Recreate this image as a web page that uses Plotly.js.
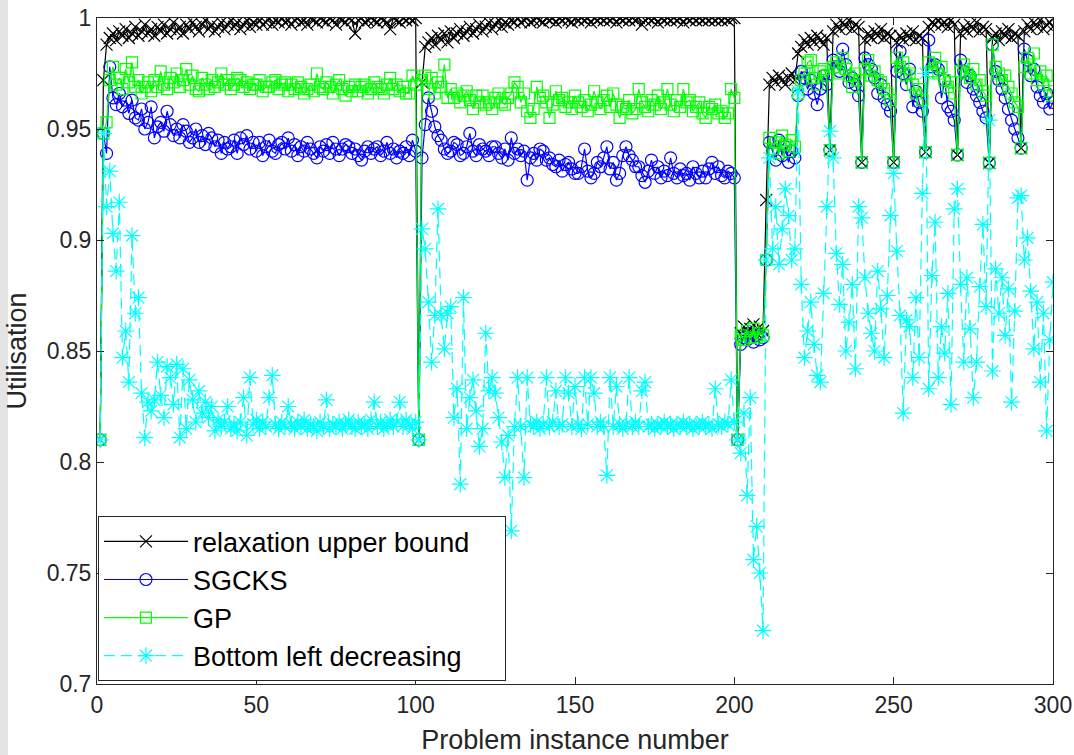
<!DOCTYPE html>
<html>
<head>
<meta charset="utf-8">
<script src="https://cdn.plot.ly/plotly-3.0.1.min.js"></script>
<style>
html,body{margin:0;padding:0;background:#fff;}
#chart{width:1074px;height:755px;}
</style>
</head>
<body>
<div id="chart"></div>
<script>
// Legend names
const seriesNames = ["relaxation upper bound", "SGCKS", "GP", "Bottom left decreasing"];
const xTickVals = [0, 50, 100, 150, 200, 250, 300];
const yTickVals = [0.7, 0.75, 0.8, 0.85, 0.9, 0.95, 1];

// relaxation upper bound, instances 1-100, 101-200, 201-300
const relax1 = [0.810,0.972,0.988,0.991,0.993,0.990,0.994,0.992,0.995,0.991,
 0.993,0.996,0.992,0.994,0.997,0.993,0.995,0.992,0.996,0.994,
 0.997,0.993,0.995,0.998,0.994,0.996,0.993,0.997,0.995,0.998,
 0.996,0.994,0.997,0.999,0.995,0.997,0.994,0.996,0.998,0.995,
 0.997,0.999,0.996,0.998,0.995,0.997,0.999,0.996,0.998,0.997,
 0.999,0.997,0.998,1.000,0.997,0.999,0.998,1.000,0.998,0.999,
 0.997,0.999,1.000,0.998,0.999,0.997,1.000,0.999,0.998,1.000,
 0.999,0.998,1.000,0.999,0.997,1.000,0.999,0.998,1.000,0.999,
 0.993,0.999,1.000,0.998,0.999,1.000,0.999,0.998,1.000,0.999,
 0.998,0.995,1.000,0.999,0.998,1.000,0.999,1.000,0.999,1.000];
const relax2 = [0.810,0.971,0.987,0.989,0.991,0.988,0.992,0.990,0.993,0.989,
 0.994,0.991,0.993,0.995,0.992,0.994,0.996,0.993,0.995,0.997,
 0.994,0.996,0.998,0.995,0.997,0.999,0.996,0.998,0.997,0.999,
 0.998,1.000,0.998,0.999,1.000,0.998,0.999,1.000,0.999,0.998,
 1.000,0.999,1.000,0.998,1.000,0.999,1.000,0.999,0.998,1.000,
 0.999,1.000,0.999,1.000,0.998,1.000,0.999,1.000,0.999,1.000,
 0.999,1.000,0.998,1.000,0.999,1.000,0.999,1.000,0.999,1.000,
 0.997,0.999,1.000,0.999,1.000,0.998,1.000,0.999,1.000,0.999,
 1.000,0.999,1.000,0.998,1.000,0.999,1.000,0.999,1.000,0.999,
 1.000,0.999,1.000,0.999,1.000,0.999,1.000,0.999,1.000,1.000];
const relax3 = [0.810,0.858,0.861,0.857,0.860,0.862,0.858,0.861,0.859,0.918,
 0.970,0.973,0.971,0.974,0.972,0.970,0.973,0.975,0.972,0.984,
 0.987,0.990,0.988,0.991,0.989,0.992,0.990,0.988,0.991,0.9405,
 0.994,0.997,0.995,0.998,0.996,0.999,0.995,0.997,0.996,0.935,
 0.990,0.993,0.991,0.994,0.992,0.995,0.991,0.993,0.992,0.935,
 0.989,0.992,0.990,0.993,0.991,0.994,0.990,0.992,0.991,0.9396,
 0.996,0.998,0.997,0.999,0.997,0.998,0.996,0.999,0.997,0.9383,
 0.993,0.996,0.994,0.997,0.995,0.998,0.994,0.996,0.995,0.9347,
 0.991,0.993,0.990,0.994,0.992,0.995,0.991,0.993,0.992,0.9414,
 0.994,0.997,0.995,0.998,0.996,0.999,0.995,0.997,0.998,0.996];

// SGCKS
const sgcks1 = [0.810,0.948,0.939,0.978,0.964,0.961,0.966,0.960,0.963,0.957,
 0.963,0.955,0.954,0.959,0.950,0.953,0.960,0.946,0.951,0.953,
 0.949,0.958,0.952,0.947,0.950,0.946,0.952,0.949,0.944,0.946,
 0.950,0.944,0.947,0.943,0.948,0.946,0.942,0.945,0.939,0.944,
 0.941,0.942,0.945,0.939,0.946,0.943,0.947,0.941,0.944,0.940,
 0.944,0.938,0.942,0.945,0.940,0.939,0.943,0.944,0.941,0.946,
 0.940,0.943,0.938,0.942,0.940,0.944,0.941,0.939,0.937,0.942,
 0.940,0.943,0.939,0.944,0.941,0.938,0.941,0.943,0.942,0.939,
 0.941,0.938,0.936,0.940,0.942,0.939,0.941,0.942,0.938,0.940,
 0.944,0.939,0.941,0.937,0.940,0.939,0.942,0.938,0.945,0.940];
const sgcks2 = [0.810,0.937,0.952,0.964,0.958,0.951,0.947,0.945,0.941,0.939,
 0.940,0.944,0.943,0.938,0.939,0.942,0.948,0.940,0.938,0.943,
 0.941,0.940,0.938,0.942,0.942,0.939,0.937,0.941,0.936,0.946,
 0.939,0.941,0.938,0.940,0.927,0.937,0.939,0.936,0.941,0.940,
 0.936,0.937,0.934,0.933,0.936,0.931,0.934,0.935,0.932,0.930,
 0.930,0.933,0.941,0.931,0.928,0.930,0.935,0.933,0.937,0.942,
 0.932,0.935,0.927,0.930,0.938,0.942,0.938,0.936,0.933,0.933,
 0.929,0.926,0.931,0.936,0.930,0.933,0.928,0.931,0.929,0.937,
 0.930,0.928,0.932,0.929,0.930,0.927,0.933,0.930,0.928,0.931,
 0.928,0.932,0.935,0.930,0.933,0.929,0.928,0.931,0.930,0.928];
const sgcks3 = [0.810,0.853,0.856,0.855,0.858,0.854,0.857,0.855,0.856,0.891,
 0.944,0.940,0.936,0.945,0.938,0.942,0.935,0.940,0.937,0.965,
 0.976,0.973,0.968,0.972,0.966,0.961,0.968,0.974,0.970,0.9405,
 0.981,0.978,0.976,0.986,0.979,0.971,0.973,0.970,0.965,0.935,
 0.982,0.979,0.977,0.973,0.966,0.970,0.964,0.961,0.958,0.935,
 0.976,0.985,0.975,0.970,0.977,0.960,0.967,0.962,0.958,0.9396,
 0.990,0.978,0.979,0.977,0.964,0.972,0.960,0.958,0.954,0.9383,
 0.981,0.976,0.971,0.974,0.968,0.965,0.962,0.958,0.955,0.9347,
 0.988,0.976,0.972,0.968,0.964,0.959,0.954,0.950,0.946,0.9414,
 0.986,0.981,0.974,0.977,0.969,0.965,0.962,0.966,0.959,0.962];

// GP
const gp1 = [0.810,0.948,0.953,0.972,0.978,0.970,0.973,0.968,0.977,0.971,
 0.980,0.969,0.972,0.966,0.969,0.971,0.967,0.972,0.969,0.976,
 0.970,0.968,0.973,0.971,0.975,0.969,0.972,0.977,0.970,0.974,
 0.968,0.967,0.973,0.970,0.968,0.972,0.969,0.971,0.975,0.970,
 0.972,0.968,0.970,0.973,0.972,0.969,0.971,0.968,0.970,0.970,
 0.972,0.967,0.969,0.969,0.971,0.972,0.968,0.970,0.971,0.967,
 0.970,0.968,0.971,0.969,0.966,0.968,0.970,0.967,0.975,0.969,
 0.968,0.971,0.969,0.966,0.970,0.972,0.968,0.965,0.969,0.967,
 0.970,0.967,0.969,0.970,0.966,0.968,0.971,0.969,0.968,0.966,
 0.970,0.973,0.968,0.970,0.967,0.969,0.966,0.966,0.974,0.970];
const gp2 = [0.810,0.972,0.974,0.968,0.973,0.966,0.971,0.969,0.979,0.964,
 0.968,0.964,0.966,0.962,0.965,0.967,0.963,0.959,0.965,0.962,
 0.965,0.961,0.962,0.959,0.964,0.966,0.962,0.961,0.964,0.966,
 0.971,0.969,0.962,0.966,0.958,0.955,0.959,0.969,0.964,0.965,
 0.962,0.955,0.961,0.967,0.963,0.964,0.960,0.962,0.959,0.965,
 0.962,0.960,0.963,0.958,0.961,0.967,0.962,0.959,0.963,0.965,
 0.960,0.966,0.961,0.955,0.960,0.959,0.963,0.957,0.959,0.968,
 0.962,0.960,0.958,0.963,0.961,0.965,0.959,0.962,0.968,0.961,
 0.958,0.963,0.960,0.968,0.962,0.963,0.958,0.960,0.962,0.957,
 0.955,0.960,0.959,0.961,0.957,0.958,0.955,0.957,0.968,0.964];
const gp3 = [0.810,0.857,0.855,0.859,0.856,0.860,0.856,0.858,0.857,0.891,
 0.946,0.941,0.944,0.939,0.947,0.943,0.940,0.945,0.942,0.966,
 0.972,0.975,0.980,0.981,0.973,0.970,0.976,0.977,0.974,0.9405,
 0.978,0.980,0.975,0.982,0.977,0.974,0.969,0.975,0.972,0.935,
 0.977,0.981,0.974,0.976,0.972,0.971,0.968,0.966,0.963,0.935,
 0.982,0.978,0.980,0.974,0.975,0.970,0.966,0.968,0.963,0.9396,
 0.980,0.976,0.982,0.975,0.978,0.972,0.969,0.971,0.966,0.9383,
 0.976,0.979,0.975,0.973,0.977,0.970,0.972,0.967,0.965,0.9347,
 0.988,0.978,0.975,0.972,0.974,0.969,0.966,0.962,0.960,0.9414,
 0.978,0.982,0.975,0.984,0.972,0.976,0.970,0.974,0.967,0.965];

// Bottom left decreasing
const bld1 = [0.810,0.948,0.915,0.931,0.903,0.886,0.917,0.847,0.859,0.836,
 0.902,0.867,0.874,0.831,0.811,0.827,0.823,0.828,0.845,0.830,
 0.820,0.843,0.838,0.826,0.844,0.811,0.842,0.815,0.837,0.828,
 0.818,0.832,0.822,0.827,0.820,0.825,0.814,0.819,0.816,0.818,
 0.825,0.815,0.817,0.814,0.818,0.829,0.812,0.838,0.817,0.819,
 0.815,0.818,0.816,0.829,0.839,0.817,0.815,0.818,0.816,0.825,
 0.817,0.815,0.818,0.816,0.819,0.815,0.817,0.816,0.814,0.818,
 0.816,0.828,0.815,0.817,0.816,0.818,0.815,0.817,0.819,0.816,
 0.815,0.818,0.816,0.817,0.815,0.819,0.827,0.816,0.818,0.815,
 0.817,0.819,0.816,0.818,0.827,0.816,0.819,0.817,0.815,0.818];
const bld2 = [0.810,0.905,0.896,0.872,0.845,0.866,0.914,0.866,0.851,0.867,
 0.870,0.820,0.833,0.790,0.874,0.815,0.829,0.837,0.823,0.807,
 0.815,0.858,0.832,0.838,0.831,0.820,0.809,0.793,0.812,0.769,
 0.816,0.838,0.816,0.793,0.838,0.817,0.816,0.818,0.815,0.817,
 0.838,0.816,0.818,0.832,0.816,0.817,0.838,0.831,0.816,0.834,
 0.817,0.815,0.838,0.817,0.838,0.831,0.816,0.818,0.816,0.794,
 0.838,0.816,0.834,0.817,0.815,0.817,0.838,0.816,0.818,0.816,
 0.832,0.836,0.816,0.817,0.815,0.817,0.816,0.818,0.816,0.817,
 0.815,0.817,0.816,0.818,0.816,0.817,0.815,0.817,0.816,0.818,
 0.816,0.817,0.815,0.833,0.817,0.816,0.818,0.817,0.837,0.818];
const bld3 = [0.810,0.804,0.822,0.785,0.829,0.756,0.771,0.750,0.724,0.891,
 0.937,0.896,0.915,0.889,0.905,0.923,0.911,0.891,0.896,0.967,
 0.880,0.847,0.859,0.872,0.853,0.839,0.836,0.876,0.915,0.949,
 0.937,0.894,0.871,0.889,0.850,0.863,0.880,0.842,0.915,0.910,
 0.883,0.867,0.858,0.850,0.886,0.869,0.847,0.875,0.911,0.930,
 0.895,0.866,0.822,0.864,0.861,0.838,0.874,0.847,0.921,0.975,
 0.833,0.884,0.908,0.838,0.861,0.849,0.876,0.826,0.914,0.923,
 0.880,0.845,0.883,0.860,0.829,0.845,0.879,0.907,0.870,0.954,
 0.841,0.887,0.867,0.883,0.857,0.878,0.827,0.868,0.919,0.920,
 0.891,0.901,0.877,0.851,0.872,0.836,0.867,0.814,0.855,0.881];

const relax = relax1.concat(relax2, relax3);
const sgcks = sgcks1.concat(sgcks2, sgcks3);
const gp = gp1.concat(gp2, gp3);
const bld = bld1.concat(bld2, bld3);
const instances = relax.map((_, i) => i + 1);

const FONT = "Liberation Sans, Arial, Helvetica, sans-serif";
const INK = "#262626";
const PAD = "\u00a0\u00a0\u00a0\u00a0"; // widens the legend box to match the reference

const traces = [
  {x: instances, y: relax, name: seriesNames[0] + PAD, legendgroup: "a", mode: "lines+markers",
   line: {color: "#000000", width: 1.2},
   marker: {symbol: "x-thin-open", size: 12, color: "#000000", line: {width: 1.2, color: "#000000"}}},
  {x: instances, y: sgcks, name: seriesNames[1], legendgroup: "b", mode: "lines+markers",
   line: {color: "#0000ff", width: 1.2},
   marker: {symbol: "circle-open", size: 12, color: "#0000ff", line: {width: 1.2}}},
  {x: instances, y: gp, name: seriesNames[2], legendgroup: "c", mode: "lines+markers",
   line: {color: "#00ff00", width: 1.2},
   marker: {symbol: "square-open", size: 11, color: "#00ff00", line: {width: 1.2}}},
  {x: instances, y: bld, name: seriesNames[3], legendgroup: "d", mode: "lines+markers",
   line: {color: "#00ffff", width: 1.2, dash: "11px,6px"},
   marker: {symbol: "asterisk-open", size: 14, color: "#00ffff", line: {width: 1.2, color: "#00ffff"}}}
];

const layout = {
  width: 1074, height: 755,
  margin: {l: 97, r: 21, t: 18, b: 71},
  paper_bgcolor: "#ffffff", plot_bgcolor: "#ffffff",
  font: {family: FONT, color: INK, size: 23},
  showlegend: true,
  xaxis: {
    range: [0, 300], tickvals: xTickVals, ticktext: xTickVals.map(String),
    ticks: "inside", ticklen: 7, tickcolor: INK, mirror: "ticks",
    showline: true, linecolor: INK, linewidth: 1, showgrid: false, zeroline: false,
    tickfont: {family: FONT, size: 23, color: INK},
    title: {text: "Problem instance number", font: {family: FONT, size: 27, color: INK}, standoff: 14}
  },
  yaxis: {
    range: [0.7, 1], tickvals: yTickVals, ticktext: yTickVals.map(String),
    ticks: "inside", ticklen: 7, tickcolor: INK, mirror: "ticks",
    showline: true, linecolor: INK, linewidth: 1, showgrid: false, zeroline: false,
    tickfont: {family: FONT, size: 23, color: INK},
    title: {text: "Utilisation", font: {family: FONT, size: 27, color: INK}, standoff: 12}
  },
  legend: {
    x: 0.001, y: 0.004, xanchor: "left", yanchor: "bottom",
    bgcolor: "#ffffff", bordercolor: INK, borderwidth: 1,
    font: {family: FONT, size: 27, color: "#000000"},
    itemwidth: 84, tracegroupgap: 0, traceorder: "normal"
  },
  shapes: [
    {type: "rect", xref: "paper", yref: "paper", x0: -97/956, x1: -89/956, y0: -71/666, y1: 1 + 18/666,
     fillcolor: "#e4e4e4", line: {width: 0}, layer: "below"}
  ]
};

Plotly.newPlot("chart", traces, layout, {displayModeBar: false, staticPlot: true});
</script>
</body>
</html>
